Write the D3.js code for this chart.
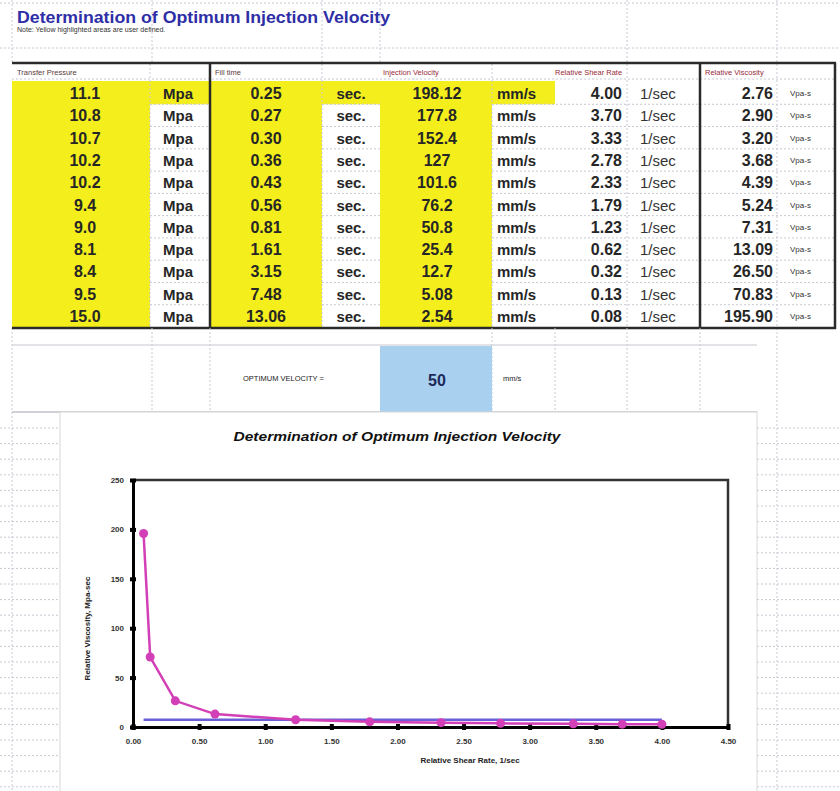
<!DOCTYPE html>
<html>
<head>
<meta charset="utf-8">
<script src="https://cdn.jsdelivr.net/npm/d3@7"></script>
<style>
  body { margin: 0; background: #fff; }
  svg { display: block; font-family: "Liberation Sans", Arial, sans-serif; }
</style>
</head>
<body>
<div id="chart"></div>
<script>
// table values read from the sheet
const pressure = [11.1, 10.8, 10.7, 10.2, 10.2, 9.4, 9.0, 8.1, 8.4, 9.5, 15.0];
const fillTime = [0.25, 0.27, 0.30, 0.36, 0.43, 0.56, 0.81, 1.61, 3.15, 7.48, 13.06];
const injVelocity = [198.12, 177.8, 152.4, 127, 101.6, 76.2, 50.8, 25.4, 12.7, 5.08, 2.54];
const shearRate = [4.00, 3.70, 3.33, 2.78, 2.33, 1.79, 1.23, 0.62, 0.32, 0.13, 0.08];
const viscosity = [2.76, 2.90, 3.20, 3.68, 4.39, 5.24, 7.31, 13.09, 26.50, 70.83, 195.90];
const headers = ['Transfer Pressure', 'Fill time', 'Injection Velocity', 'Relative Shear Rate', 'Relative Viscosity'];
const units = ['Mpa', 'sec.', 'mm/s', '1/sec', 'Vpa-s'];
const optimumVelocity = 50;
const optimumLine = [{ x: 0.08, y: 7.31 }, { x: 4.00, y: 7.31 }];
const xTicks = [0, 0.5, 1, 1.5, 2, 2.5, 3, 3.5, 4, 4.5];
const yTicks = [0, 50, 100, 150, 200, 250];

const W = 840, H = 791;
const svg = d3.select('#chart').append('svg').attr('width', W).attr('height', H);

const grid = '#c8c8d4';
const yellow = '#f4ef1c';
const dark = '#2a2a2a';

// ---- background spreadsheet grid ----
const bg = svg.append('g').attr('stroke', grid).attr('stroke-width', 1).attr('stroke-dasharray', '2,2');
[3, 48].forEach(y => bg.append('line').attr('x1', 0).attr('x2', W).attr('y1', y).attr('y2', y));
[12, 152, 322, 380, 627, 777].forEach(x => bg.append('line').attr('x1', x).attr('x2', x).attr('y1', 0).attr('y2', 63));
d3.range(428, H, 15.6).forEach(y => {
  bg.append('line').attr('x1', 0).attr('x2', 60).attr('y1', y).attr('y2', y);
  bg.append('line').attr('x1', 757).attr('x2', W).attr('y1', y).attr('y2', y);
});
bg.append('line').attr('x1', 12).attr('x2', 12).attr('y1', 328).attr('y2', H);
bg.append('line').attr('x1', 777).attr('x2', 777).attr('y1', 328).attr('y2', H);

// ---- title ----
svg.append('text').attr('x', 17).attr('y', 23)
  .attr('font-size', 17).attr('font-weight', 'bold').attr('fill', '#2e2ea6')
  .attr('textLength', 373).attr('lengthAdjust', 'spacingAndGlyphs')
  .text('Determination of Optimum Injection Velocity');
svg.append('text').attr('x', 17).attr('y', 32).attr('font-size', 7).attr('fill', '#333')
  .text('Note: Yellow highlighted areas are user defined.');

// ---- table ----
const colX = [12, 150, 210, 322, 380, 492, 555, 627, 700, 777, 835];
const nRows = pressure.length;
const rowY = d3.scaleLinear().domain([0, nRows]).range([82, 327]);
const rowH = rowY(1) - rowY(0);

const table = svg.append('g');
// yellow input cells
[0, 2, 4].forEach(c => table.append('rect')
  .attr('x', colX[c]).attr('y', rowY(0)).attr('width', colX[c + 1] - colX[c]).attr('height', rowY(nRows) - rowY(0))
  .attr('fill', yellow));
table.append('rect').attr('x', colX[0]).attr('y', rowY(0) - 1).attr('width', colX[6] - colX[0]).attr('height', rowH + 1)
  .attr('fill', yellow);

// dotted cell grid
const tg = table.append('g').attr('stroke', grid).attr('stroke-dasharray', '2,2');
d3.range(1, nRows).forEach(i => tg.append('line')
  .attr('x1', colX[5]).attr('x2', colX[10]).attr('y1', rowY(i)).attr('y2', rowY(i)));
d3.range(1, nRows).forEach(i => [1, 3].forEach(c => tg.append('line')
  .attr('x1', colX[c]).attr('x2', colX[c + 1]).attr('y1', rowY(i)).attr('y2', rowY(i))));
[1, 3, 5, 7, 9].forEach(c => tg.append('line').attr('x1', colX[c]).attr('x2', colX[c]).attr('y1', 64).attr('y2', 328));
tg.append('line').attr('x1', colX[0]).attr('x2', colX[10]).attr('y1', 79).attr('y2', 79);

// heavy borders
const tb = table.append('g').attr('stroke', dark).attr('stroke-width', 2.5);
tb.append('line').attr('x1', colX[0]).attr('x2', colX[10] + 1).attr('y1', 63).attr('y2', 63);
tb.append('line').attr('x1', colX[0]).attr('x2', colX[10] + 1).attr('y1', 328).attr('y2', 328);
[2, 8, 10].forEach(c => tb.append('line').attr('x1', colX[c]).attr('x2', colX[c]).attr('y1', 63).attr('y2', 329));

// headers
const headX = [17, 215, 383, 555, 705];
headers.forEach((h, i) => table.append('text').attr('x', headX[i]).attr('y', 75)
  .attr('font-size', 7.5).attr('fill', i < 2 ? '#5a3a3a' : '#9a2a3a').text(h));

// cells
const f1 = d3.format('.1f'), f2 = d3.format('.2f');
const cols = [
  { vals: pressure, fmt: f1, x: 85, anchor: 'middle' },
  { vals: fillTime, fmt: f2, x: 266, anchor: 'middle' },
  { vals: injVelocity, fmt: String, x: 437, anchor: 'middle' },
  { vals: shearRate, fmt: f2, x: 622, anchor: 'end' },
  { vals: viscosity, fmt: f2, x: 773, anchor: 'end' },
];
cols.forEach(col => table.selectAll(null).data(col.vals).join('text')
  .attr('x', col.x).attr('y', (d, i) => rowY(i) + rowH / 2 + 6)
  .attr('text-anchor', col.anchor).attr('font-size', 16).attr('font-weight', 'bold').attr('fill', '#262626')
  .text(col.fmt));
const unitX = [178, 351, 497, 640, 790];
units.forEach((u, k) => table.selectAll(null).data(d3.range(nRows)).join('text')
  .attr('x', unitX[k]).attr('y', i => rowY(i) + rowH / 2 + (k === 4 ? 3 : 6))
  .attr('text-anchor', k < 2 ? 'middle' : 'start')
  .attr('font-size', k === 4 ? 8 : 15).attr('font-weight', k < 3 ? 'bold' : 'normal')
  .attr('fill', k < 3 ? '#262626' : '#333').text(u));

// optimum velocity row
const opt = svg.append('g');
opt.append('line').attr('x1', 12).attr('x2', 757).attr('y1', 345).attr('y2', 345).attr('stroke', '#c8c8d0');
opt.append('line').attr('x1', 12).attr('x2', 757).attr('y1', 412).attr('y2', 412).attr('stroke', '#c0c0c8').attr('stroke-width', 1.5);
[152, 210, 492, 555, 627, 700].forEach(x => opt.append('line').attr('x1', x).attr('x2', x)
  .attr('y1', 328).attr('y2', 412).attr('stroke', grid).attr('stroke-dasharray', '2,2'));
opt.append('rect').attr('x', 380).attr('y', 346).attr('width', 112).attr('height', 66).attr('fill', '#a9d0ef');
opt.append('text').attr('x', 243).attr('y', 381).attr('font-size', 7.5).attr('fill', '#222').text('OPTIMUM VELOCITY =');
opt.append('text').attr('x', 437).attr('y', 386).attr('text-anchor', 'middle').attr('font-size', 16)
  .attr('font-weight', 'bold').attr('fill', '#1c2a5a').text(optimumVelocity);
opt.append('text').attr('x', 503).attr('y', 381).attr('font-size', 7.5).attr('fill', '#222').text('mm/s');

// ---- chart ----
const chart = svg.append('g');
chart.append('rect').attr('x', 60).attr('y', 412).attr('width', 697).attr('height', 380)
  .attr('fill', '#fff').attr('stroke', '#d8d8d8');
chart.append('text').attr('x', 397).attr('y', 441).attr('text-anchor', 'middle')
  .attr('font-size', 12).attr('font-weight', 'bold').attr('font-style', 'italic').attr('fill', '#111')
  .attr('textLength', 327).attr('lengthAdjust', 'spacingAndGlyphs')
  .text('Determination of Optimum Injection Velocity');

const x = d3.scaleLinear().domain([0, 4.5]).range([133, 728]);
const y = d3.scaleLinear().domain([0, 250]).range([727, 480]);

// plot frame (top/right)
chart.append('path').attr('d', `M${x(0)},${y(250)}H${x(4.5)}V${y(0)}`)
  .attr('fill', 'none').attr('stroke', '#333').attr('stroke-width', 2.5);

const xAxis = chart.append('g').attr('transform', `translate(0,${y(0)})`)
  .call(d3.axisBottom(x).tickValues(xTicks).tickFormat(d3.format('.2f')).tickSize(3).tickPadding(8));
const yAxis = chart.append('g').attr('transform', `translate(${x(0)},0)`)
  .call(d3.axisLeft(y).tickValues(yTicks).tickFormat(d3.format('d')).tickSize(3).tickPadding(6));
[xAxis, yAxis].forEach(g => {
  g.select('.domain').attr('stroke', '#000').attr('stroke-width', 3);
  g.selectAll('.tick line').attr('stroke', '#000').attr('stroke-width', 4);
  g.selectAll('.tick text').attr('font-size', 8).attr('font-weight', 'bold').attr('fill', '#333')
    .attr('font-family', 'Liberation Sans, Arial');
});
xAxis.selectAll('.tick line').attr('y1', -3);
yAxis.selectAll('.tick line').attr('x1', 3);

chart.append('text').attr('x', 470).attr('y', 763).attr('text-anchor', 'middle')
  .attr('font-size', 8).attr('font-weight', 'bold').attr('fill', '#222').text('Relative Shear Rate, 1/sec');
chart.append('text').attr('transform', `translate(90,${(y(0) + y(250)) / 2 + 25}) rotate(-90)`)
  .attr('text-anchor', 'middle').attr('font-size', 8).attr('font-weight', 'bold').attr('fill', '#222')
  .text('Relative Viscosity, Mpa-sec');

// series
const pts = shearRate.map((s, i) => ({ x: s, y: viscosity[i] }));
const line = d3.line().x(d => x(d.x)).y(d => y(d.y));
chart.append('path').datum(optimumLine).attr('d', line)
  .attr('fill', 'none').attr('stroke', '#6a5fd8').attr('stroke-width', 2.5);
chart.append('path').datum(pts).attr('d', line)
  .attr('fill', 'none').attr('stroke', '#d23fb6').attr('stroke-width', 2.5);
chart.selectAll('.pt').data(pts).join('circle').attr('class', 'pt')
  .attr('cx', d => x(d.x)).attr('cy', d => y(d.y)).attr('r', 4.5).attr('fill', '#d23fb6');
</script>
</body>
</html>
